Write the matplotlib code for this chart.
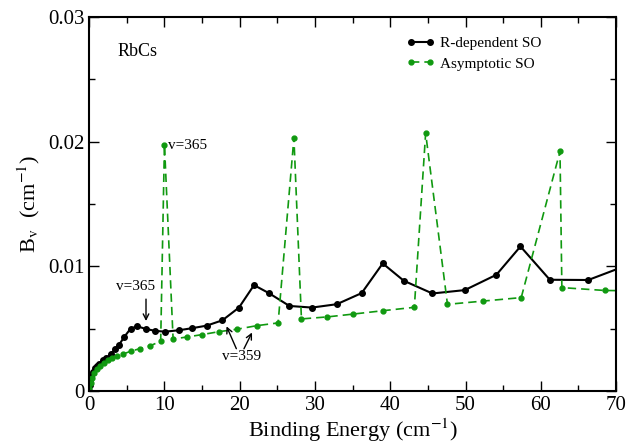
import numpy as np
import matplotlib
matplotlib.use("Agg")
import matplotlib.pyplot as plt
from matplotlib.ticker import MultipleLocator

plt.rcParams['font.family'] = ['Liberation Serif', 'DejaVu Serif']
plt.rcParams['mathtext.fontset'] = 'stix'

# R-dependent SO (энергия связи, см^-1 ; B_v в 1e-3 см^-1)
x_rdep = [0.0, 0.05, 0.15, 0.3, 0.5, 0.75, 1.0, 1.25, 1.8, 2.3, 2.85, 3.4, 3.95,
          4.65, 5.5, 6.4, 7.5, 8.8, 10.1, 11.9, 13.6, 15.6, 17.7, 19.9, 21.9,
          23.9, 26.6, 29.6, 32.9, 36.2, 39.0, 41.8, 45.6, 49.9, 54.1, 57.3,
          61.2, 66.3, 71.5]
b_rdep = [0.0, 0.5, 0.9, 1.25, 1.55, 1.85, 2.0, 2.14, 2.47, 2.68, 2.95, 3.35, 3.7,
          4.34, 5.01, 5.2, 4.99, 4.83, 4.77, 4.88, 5.04, 5.25, 5.68, 6.7, 8.5,
          7.85, 6.83, 6.7, 6.97, 7.86, 10.24, 8.85, 7.83, 8.1, 9.33, 11.6,
          8.93, 8.91, 10.1]

# Asymptotic SO
x_asym = [0.0, 0.04, 0.18, 0.39, 0.66, 1.0, 1.45, 1.97, 2.54, 3.07, 3.73, 4.52,
          5.61, 6.71, 8.03, 9.5, 10.0, 11.15, 12.97, 14.97, 17.26, 19.6, 22.27,
          25.1, 27.2, 28.2, 31.6, 35.1, 39.05, 43.2, 44.7, 47.6, 52.35, 57.4,
          62.55, 62.8, 68.5, 71.5]
b_asym = [0.0, 0.27, 0.67, 1.07, 1.47, 1.74, 2.01, 2.28, 2.47, 2.63, 2.82, 2.98,
          3.22, 3.40, 3.62, 4.0, 19.77, 4.18, 4.34, 4.53, 4.77, 4.96, 5.25,
          5.47, 20.3, 5.79, 5.95, 6.18, 6.45, 6.72, 20.68, 6.96, 7.22, 7.5,
          19.22, 8.3, 8.07, 8.05]

x_rdep = np.array(x_rdep)
b_rdep = np.array(b_rdep) * 1e-3
x_asym = np.array(x_asym)
b_asym = np.array(b_asym) * 1e-3

fig = plt.figure(figsize=(6.28, 4.45), dpi=100)
ax = fig.add_axes([0.142, 0.121, 0.839, 0.841])

ax.plot(x_rdep, b_rdep, '-o', color='black', lw=1.5, ms=4, label='R-dependent SO')
ax.plot(x_asym, b_asym, '--o', color='#109910', lw=1.2, ms=3.5,
        dashes=(5, 3), label='Asymptotic SO')

ax.set_xlim(0, 70)
ax.set_ylim(0, 0.03)
ax.xaxis.set_major_locator(MultipleLocator(10))
ax.xaxis.set_minor_locator(MultipleLocator(5))
ax.yaxis.set_major_locator(MultipleLocator(0.01))
ax.yaxis.set_minor_locator(MultipleLocator(0.005))
ax.set_yticks([0, 0.01, 0.02, 0.03])
ax.set_yticklabels(['0', '0.01', '0.02', '0.03'])
ax.tick_params(which='both', direction='in', top=True, right=True, labelsize=15)
ax.tick_params(which='major', length=7, width=1)
ax.tick_params(which='minor', length=4, width=1)
for s in ax.spines.values():
    s.set_linewidth(1.5)

ax.set_xlabel('Binding Energy (cm$^{-1}$)', fontsize=16, labelpad=1)
ax.set_ylabel('B$_\\mathrm{v}$  (cm$^{-1}$)', fontsize=16, labelpad=4)

ax.text(3.7, 0.0272, 'RbCs', fontsize=13, va='center')
ax.text(10.5, 0.0197, 'v=365', fontsize=11, va='center')
ax.text(3.6, 0.0084, 'v=365', fontsize=11, va='center')
ax.annotate('', xy=(7.55, 0.0054), xytext=(7.55, 0.0076),
            arrowprops=dict(arrowstyle='->', color='black', lw=1))
ax.text(17.6, 0.0028, 'v=359', fontsize=11, va='center')
ax.annotate('', xy=(18.1, 0.0054), xytext=(19.7, 0.0032),
            arrowprops=dict(arrowstyle='->', color='black', lw=1))
ax.annotate('', xy=(21.8, 0.0049), xytext=(20.4, 0.0032),
            arrowprops=dict(arrowstyle='->', color='black', lw=1))

ax.legend(loc='upper right', bbox_to_anchor=(0.885, 0.985), frameon=False,
          fontsize=11, numpoints=2, handlelength=1.8, handletextpad=0.4,
          labelspacing=0.45)

fig.savefig('out.png', dpi=100)
